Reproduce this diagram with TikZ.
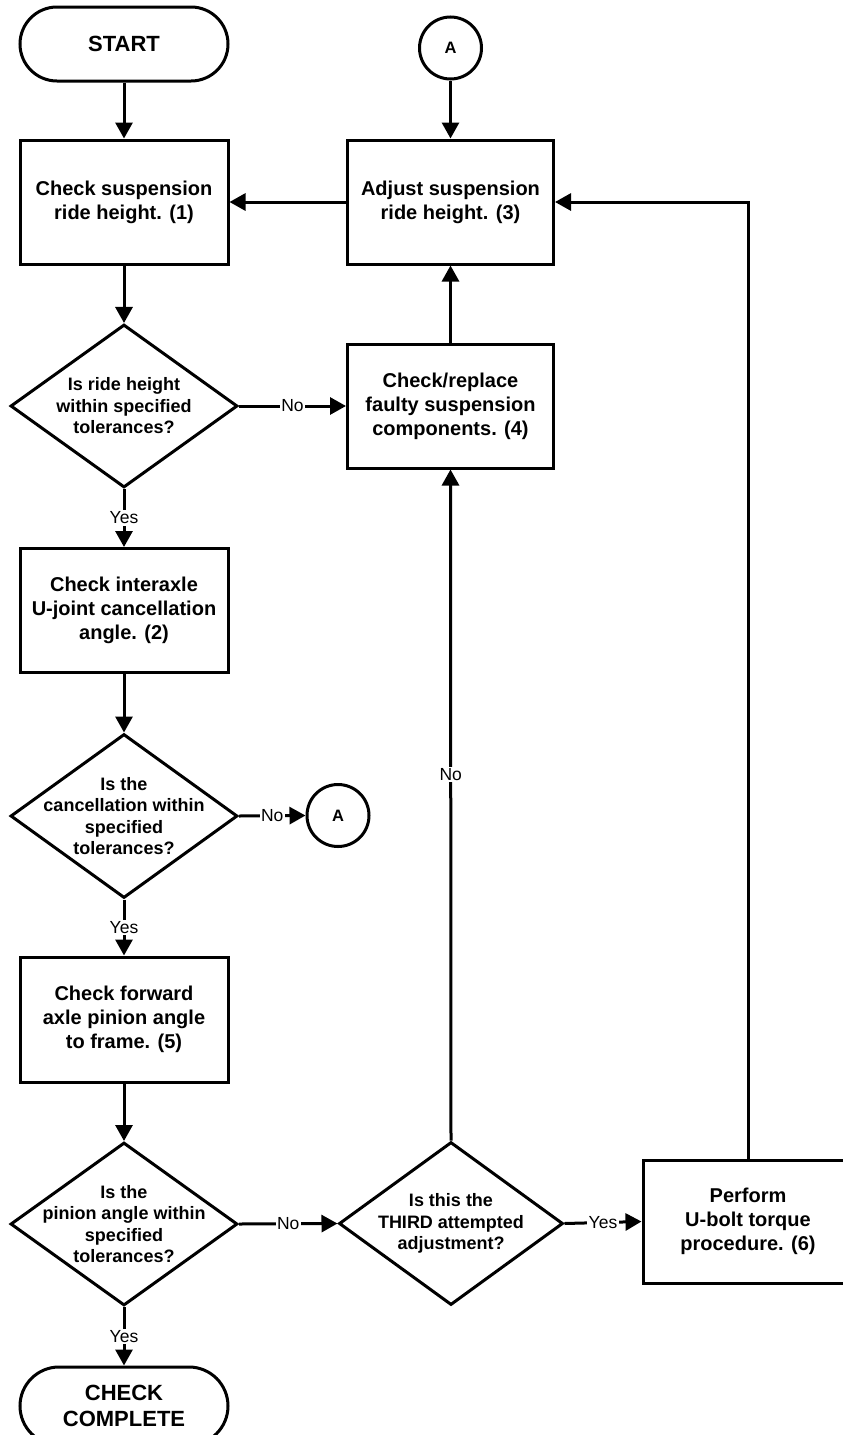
\documentclass[tikz,border=0pt]{standalone}
\usepackage{fontspec}
\setmainfont{Liberation Sans}
\usetikzlibrary{arrows.meta,shapes.geometric}
\begin{document}
\begin{tikzpicture}[x=1pt,y=-1pt,
  line width=3pt,
  >={Triangle[length=16pt,width=17pt]},
  proc/.style={draw, rectangle, minimum width=208pt, minimum height=124pt, inner sep=0pt, align=center, font=\fontsize{20}{24}\selectfont\bfseries},
  term/.style={draw, rectangle, rounded corners=37pt, minimum width=208pt, minimum height=74pt, inner sep=0pt, align=center, font=\fontsize{22}{26}\selectfont\bfseries},
  dec/.style={draw, diamond, minimum width=227pt, minimum height=163pt, inner sep=0pt},
  dtext/.style={align=center, inner sep=0pt, font=\fontsize{18}{21.5}\selectfont\bfseries},
  conn/.style={draw, circle, minimum size=62pt, inner sep=0pt, font=\fontsize{16.5}{18}\selectfont\bfseries},
  lbl/.style={fill=white, inner sep=1.5pt, font=\fontsize{17.5}{20}\selectfont},
]
\useasboundingbox[fill=white] (0,0) rectangle (843,1435);

% nodes
\node[term] (start) at (124,44) {START};
\node[proc] (box1) at (124,202) {Check suspension\\ride height. (1)};
\node[conn] (atop) at (450.5,48) {A};
\node[proc, minimum width=206pt] (adjust) at (450.5,202) {Adjust suspension\\ride height. (3)};
\node[dec] (d1) at (124,406) {};
\node[dtext] (d1t) at (d1) {Is ride height\\within specified\\tolerances?};
\node[proc, minimum width=206pt] (checkrep) at (450.5,406) {Check/replace\\faulty suspension\\components. (4)};
\node[proc] (box2) at (124,610.5) {Check interaxle\\U-joint cancellation\\angle. (2)};
\node[dec, minimum height=164pt] (d2) at (124,816) {};
\node[dtext] (d2t) at (d2) {Is the\\cancellation within\\specified\\tolerances?};
\node[conn] (aside) at (338,815.5) {A};
\node[proc, minimum height=125pt] (box5) at (124,1019.5) {Check forward\\axle pinion angle\\to frame. (5)};
\node[dec] (d3) at (124,1224) {};
\node[dtext] (d3t) at (d3) {Is the\\pinion angle within\\specified\\tolerances?};
\node[dec, minimum width=224pt] (d4) at (451,1223.5) {};
\node[dtext] (d4t) at (d4) {Is this the\\THIRD attempted\\adjustment?};
\node[proc, minimum width=210pt, minimum height=123pt] (perform) at (748,1221.5) {Perform\\U-bolt torque\\procedure. (6)};
\node[term, minimum height=78pt, rounded corners=39pt] (finish) at (124,1406) {CHECK\\COMPLETE};

% connectors
\draw[->] (start) -- (box1);
\draw[->] (atop) -- (adjust);
\draw[->] (adjust.west) -- (adjust.west -| box1.east);
\draw[->] (box1) -- (d1);
\draw[->] (d1.east) -- node[lbl] {No} (checkrep.west);
\draw[->] (checkrep) -- (adjust);
\draw[->] (d1.south) -- node[lbl] {Yes} (box2.north);
\draw[->] (box2) -- (d2);
\draw[->] (d2.east) -- node[lbl] {No} (aside.west);
\draw[->] (d2.south) -- node[lbl] {Yes} (box5.north);
\draw[->] (box5) -- (d3);
\draw[->] (d3.east) -- node[lbl] {No} (d4.west);
\draw[->] (d3.south) -- node[lbl] {Yes} (finish.north);
\draw[->] (d4.north) -- node[lbl, pos=0.545] {No} (checkrep.south);
\draw[->] (d4.east) -- node[lbl] {Yes} (perform.west);
\draw[->] (perform.north) |- (adjust.east);
\end{tikzpicture}
\end{document}
